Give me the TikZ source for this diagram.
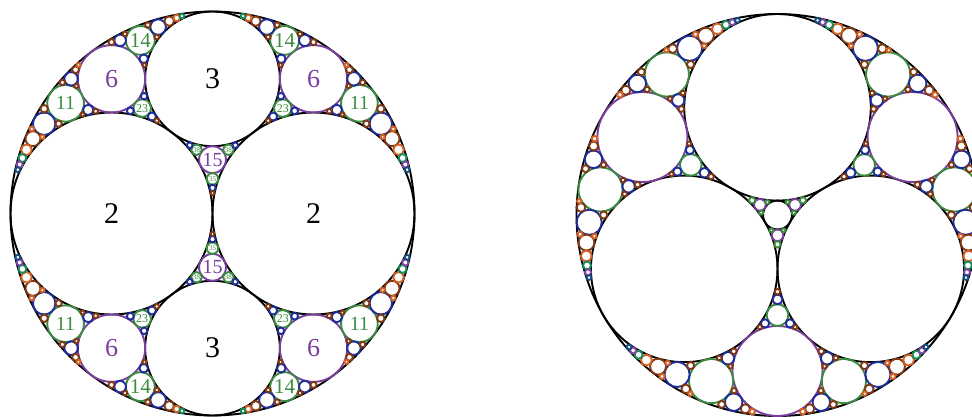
\documentclass[tikz,border=0pt]{standalone}
\usepackage{fontspec}
\setmainfont{Liberation Serif}
\definecolor{apc0}{RGB}{0,0,0}
\definecolor{apc1}{RGB}{122,62,158}
\definecolor{apc2}{RGB}{58,140,62}
\definecolor{apc3}{RGB}{30,45,155}
\definecolor{apc4}{RGB}{128,55,18}
\definecolor{apc5}{RGB}{212,96,36}
\definecolor{apc6}{RGB}{22,140,86}
\definecolor{apc7}{RGB}{128,70,170}
\definecolor{apc8}{RGB}{22,80,130}
\definecolor{apc9}{RGB}{128,55,18}
\tikzset{apline/.style={line width=1.9pt}}
\def\apK#1#2#3{#1}\def\apB#1#2#3{#2}\def\apC#1#2#3{#3}
\def\apKmax{100}
\def\apGmax{9}
\newif\ifaplabel
\expandafter\def\csname apfs2\endcsname{30}
\expandafter\def\csname apfs3\endcsname{30}
\expandafter\def\csname apfs6\endcsname{26}
\expandafter\def\csname apfs15\endcsname{20}
\expandafter\def\csname apfs11\endcsname{20}
\expandafter\def\csname apfs14\endcsname{21}
\expandafter\def\csname apfs23\endcsname{12}
\expandafter\def\csname apfs35\endcsname{7}
\expandafter\def\csname apfs38\endcsname{7}
\newcommand\apdraw[4]{%
  \edef\apx{\fpeval{round(\apcx+\apR*(#2)/(#1),3)}}%
  \edef\apy{\fpeval{round(\apcy+\apR*(#3)/(#1),3)}}%
  \edef\apr{\fpeval{round(abs(\apR/(#1)),3)}}%
  \draw[apline, draw=apc#4] (\apx pt,\apy pt) circle[radius=\apr pt];
  \ifaplabel\ifnum#4<3\relax
    \edef\aplab{\fpeval{round(#1)}}%
    \edef\apfs{\csname apfs\aplab\endcsname}%
    \node[text=apc#4, inner sep=0pt, font=\fontsize{\apfs}{\apfs}\selectfont] at (\apx pt,\apy pt) {\aplab};
  \fi\fi}
\newcommand\apgap[5]{%
  \edef\apnk{\fpeval{2*(\apK#2+\apK#3+\apK#4)-(\apK#5)}}%
  \ifnum\fpeval{\apnk<=\apKmax}=1\relax
    \edef\apnb{\fpeval{2*(\apB#2+\apB#3+\apB#4)-(\apB#5)}}%
    \edef\apnc{\fpeval{2*(\apC#2+\apC#3+\apC#4)-(\apC#5)}}%
    \apdraw{\apnk}{\apnb}{\apnc}{#1}%
    \ifnum#1<\apGmax\relax
      \edef\apnext{%
        \noexpand\apgap{\the\numexpr#1+1}{#2}{#3}{{\apnk}{\apnb}{\apnc}}{#4}%
        \noexpand\apgap{\the\numexpr#1+1}{#2}{#4}{{\apnk}{\apnb}{\apnc}}{#3}%
        \noexpand\apgap{\the\numexpr#1+1}{#3}{#4}{{\apnk}{\apnb}{\apnc}}{#2}}%
      \apnext
    \fi
  \fi}
\begin{document}
\begin{tikzpicture}
\useasboundingbox (0,0) rectangle (972pt,416pt);
\clip (0,0) rectangle (972pt,416pt);
% left gasket
\def\apcx{212.5}\def\apcy{202.5}\def\apR{202}
\aplabeltrue
\draw[apline] (\apcx pt,\apcy pt) circle[radius=\apR pt];
\apdraw{2}{-1}{0}{0}
\apdraw{2}{1}{0}{0}
\apdraw{3}{0}{2}{0}
\apdraw{3}{0}{-2}{0}
\def\apO{{-1}{0}{0}}\def\apA{{2}{-1}{0}}\def\apBB{{2}{1}{0}}
\def\apT{{3}{0}{2}}\def\apU{{3}{0}{-2}}
\edef\apgo{%
 \noexpand\apgap{1}{\apT}{\apO}{\apA}{\apBB}%
 \noexpand\apgap{1}{\apT}{\apO}{\apBB}{\apA}%
 \noexpand\apgap{1}{\apT}{\apA}{\apBB}{\apO}%
 \noexpand\apgap{1}{\apU}{\apO}{\apA}{\apBB}%
 \noexpand\apgap{1}{\apU}{\apO}{\apBB}{\apA}%
 \noexpand\apgap{1}{\apU}{\apA}{\apBB}{\apO}}
\apgo
% right gasket
\def\apcx{777.5}\def\apcy{201}\def\apR{201}
\aplabelfalse
\edef\kA{\fpeval{1+2/sqrt(3)}}
\edef\sA{\fpeval{2/sqrt(3)}}
\edef\tA{\fpeval{1/sqrt(3)}}
\edef\kZ{\fpeval{(1+2/sqrt(3))*(3+2*sqrt(3))}}
\draw[apline] (\apcx pt,\apcy pt) circle[radius=\apR pt];
\apdraw{\kA}{0}{\sA}{0}
\apdraw{\kA}{-1}{-\tA}{0}
\apdraw{\kA}{1}{-\tA}{0}
\apdraw{\kZ}{0}{0}{0}
\edef\apA{{\kA}{0}{\sA}}\edef\apBB{{\kA}{-1}{-\tA}}\edef\apCC{{\kA}{1}{-\tA}}
\edef\apZ{{\kZ}{0}{0}}
\edef\apgo{%
 \noexpand\apgap{1}{\apO}{\apA}{\apBB}{\apCC}%
 \noexpand\apgap{1}{\apO}{\apBB}{\apCC}{\apA}%
 \noexpand\apgap{1}{\apO}{\apCC}{\apA}{\apBB}%
 \noexpand\apgap{1}{\apZ}{\apA}{\apBB}{\apCC}%
 \noexpand\apgap{1}{\apZ}{\apBB}{\apCC}{\apA}%
 \noexpand\apgap{1}{\apZ}{\apCC}{\apA}{\apBB}}
\apgo
\end{tikzpicture}
\end{document}
